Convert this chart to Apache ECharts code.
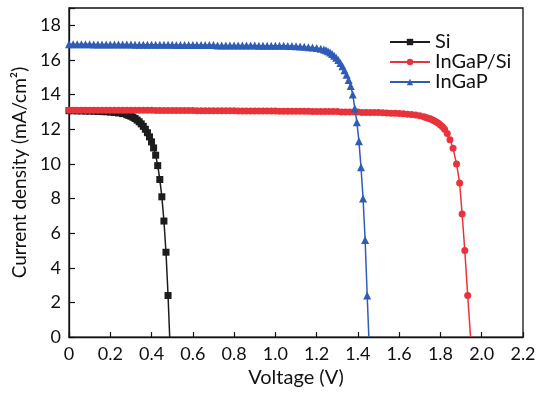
<!DOCTYPE html>
<html><head><meta charset="utf-8">
<script src="https://cdn.jsdelivr.net/npm/echarts@6/dist/echarts.min.js"></script>
<style>html,body{margin:0;padding:0;background:#fff}#c{width:549px;height:393px}</style>
</head><body><div id="c"></div>
<script>
const seriesNames = ['Si', 'InGaP/Si', 'InGaP'];
const xTicks = ['0','0.2','0.4','0.6','0.8','1.0','1.2','1.4','1.6','1.8','2.0','2.2'];

const siData = [[0,13.07],[0.02,13.07],[0.04,13.06],[0.06,13.06],[0.08,13.05],[0.10,13.05],[0.12,13.04],[0.14,13.03],[0.16,13.02],[0.18,13.01],[0.20,12.99],
[0.22,12.97],[0.24,12.94],[0.26,12.90],[0.28,12.84],[0.29,12.80],[0.30,12.75],[0.31,12.69],[0.32,12.62],[0.33,12.53],[0.34,12.43],[0.35,12.31],[0.36,12.17],[0.37,12.00],[0.38,11.80],[0.39,11.56],[0.40,11.27],[0.41,10.92],[0.42,10.50],[0.43,9.90],[0.44,9.10],[0.45,8.10],[0.46,6.70],[0.47,4.90],[0.48,2.40],[0.488,0]];

const ingapSiData = [[0,13.10],[0.02,13.10],[0.04,13.10],[0.06,13.10],[0.08,13.10],[0.10,13.10],[0.12,13.10],[0.14,13.10],[0.16,13.10],[0.18,13.10],[0.20,13.10],
[0.22,13.09],[0.24,13.09],[0.26,13.09],[0.28,13.09],[0.30,13.09],[0.32,13.09],[0.34,13.09],[0.36,13.09],[0.38,13.09],[0.40,13.09],
[0.42,13.08],[0.44,13.08],[0.46,13.08],[0.48,13.08],[0.50,13.08],[0.52,13.08],[0.54,13.08],[0.56,13.08],[0.58,13.08],[0.60,13.08],
[0.62,13.07],[0.64,13.07],[0.66,13.07],[0.68,13.07],[0.70,13.07],[0.72,13.07],[0.74,13.07],[0.76,13.07],[0.78,13.07],[0.80,13.07],
[0.82,13.06],[0.84,13.06],[0.86,13.06],[0.88,13.06],[0.90,13.06],[0.92,13.06],[0.94,13.06],[0.96,13.06],[0.98,13.06],[1.00,13.06],
[1.02,13.04],[1.04,13.04],[1.06,13.04],[1.08,13.04],[1.10,13.04],[1.12,13.04],[1.14,13.04],[1.16,13.04],
[1.18,13.02],[1.20,13.02],[1.22,13.02],[1.24,13.02],[1.26,13.02],[1.28,13.02],[1.30,13.02],
[1.32,13.00],[1.34,13.00],[1.36,13.00],[1.38,13.00],[1.40,13.00],
[1.42,12.97],[1.44,12.97],[1.46,12.97],[1.48,12.97],[1.50,12.97],
[1.52,12.95],[1.54,12.94],[1.56,12.93],[1.58,12.92],[1.60,12.91],[1.62,12.89],[1.64,12.87],[1.66,12.85],[1.68,12.82],[1.70,12.78],[1.72,12.72],[1.73,12.68],[1.74,12.64],[1.75,12.60],[1.76,12.55],[1.77,12.49],[1.78,12.42],[1.79,12.34],[1.80,12.25],[1.81,12.14],[1.82,12.00],[1.833,11.75],[1.846,11.40],[1.861,10.90],[1.878,10.00],[1.893,8.90],[1.905,7.10],[1.918,5.00],[1.932,2.40],[1.946,0]];

const ingapData = [[0,16.90],[0.02,16.90],[0.04,16.90],[0.06,16.90],[0.08,16.90],[0.10,16.90],
[0.12,16.89],[0.14,16.89],[0.16,16.89],[0.18,16.89],[0.20,16.89],[0.22,16.89],[0.24,16.89],[0.26,16.89],[0.28,16.89],[0.30,16.89],
[0.32,16.88],[0.34,16.88],[0.36,16.88],[0.38,16.88],[0.40,16.88],[0.42,16.88],[0.44,16.88],[0.46,16.88],[0.48,16.88],[0.50,16.88],
[0.52,16.86],[0.54,16.86],[0.56,16.86],[0.58,16.86],[0.60,16.86],[0.62,16.86],[0.64,16.86],[0.66,16.86],[0.68,16.86],[0.70,16.86],
[0.72,16.84],[0.74,16.84],[0.76,16.84],[0.78,16.84],[0.80,16.84],[0.82,16.84],[0.84,16.84],[0.86,16.84],[0.88,16.84],[0.90,16.84],
[0.92,16.82],[0.94,16.82],[0.96,16.82],[0.98,16.82],[1.00,16.82],[1.02,16.82],[1.04,16.82],
[1.06,16.81],[1.08,16.80],[1.10,16.79],[1.12,16.78],[1.14,16.76],[1.16,16.74],[1.18,16.72],[1.20,16.69],[1.22,16.65],
[1.235,16.61],[1.245,16.56],[1.255,16.50],[1.265,16.43],[1.275,16.35],[1.285,16.25],[1.295,16.13],[1.305,16.00],[1.315,15.83],[1.325,15.63],[1.335,15.40],[1.345,15.15],[1.355,14.85],[1.365,14.50],[1.375,14.00],[1.385,13.20],[1.395,12.40],[1.405,11.30],[1.415,9.80],[1.425,8.00],[1.435,5.60],[1.445,2.40],[1.453,0]];

const colors = ['#1c1c1c', '#e8333a', '#2f5db6'];
const symbols = ['rect', 'circle', 'triangle'];
const FONT = 'Lato';

function withEnd(arr) {
  return arr.map((p, i) => i === arr.length - 1 ? {value: p, symbol: 'none'} : p);
}
const datasets = [siData, ingapSiData, ingapData];

const chart = echarts.init(document.getElementById('c'));
chart.setOption({
  animation: false,
  backgroundColor: '#fff',
  textStyle: {fontFamily: FONT},
  grid: {left: 69, right: 26, top: 8, bottom: 52, show: true, borderColor: '#111', borderWidth: 1.3, backgroundColor: 'transparent'},
  legend: {
    orient: 'vertical', left: 384, top: 27, itemWidth: 40, itemHeight: 8, itemGap: 0,
    textStyle: {fontFamily: FONT, fontSize: 20, lineHeight: 19, color: '#111'},
    data: seriesNames
  },
  xAxis: {
    type: 'value', min: 0, max: 2.2, interval: 0.2,
    name: 'Voltage (V)', nameLocation: 'middle', nameGap: 30,
    nameTextStyle: {fontFamily: FONT, fontSize: 20, color: '#111'},
    axisLine: {show: true, lineStyle: {color: '#111', width: 1.3}},
    axisTick: {show: true, inside: true, length: 5, lineStyle: {color: '#111', width: 1.2}},
    axisLabel: {fontFamily: FONT, fontSize: 18, color: '#111', margin: 8,
      formatter: v => xTicks[Math.round(v / 0.2)]},
    splitLine: {show: false}
  },
  yAxis: {
    type: 'value', min: 0, max: 19, interval: 2,
    name: 'Current density (mA/cm\u00B2)', nameLocation: 'middle', nameGap: 33,
    nameTextStyle: {fontFamily: FONT, fontSize: 19, color: '#111'},
    axisLine: {show: true, lineStyle: {color: '#111', width: 1.3}},
    axisTick: {show: true, inside: true, length: 6, lineStyle: {color: '#111', width: 1.2}},
    axisLabel: {fontFamily: FONT, fontSize: 18, color: '#111', margin: 8,
      formatter: v => (v % 2 === 0 ? String(v) : '')},
    splitLine: {show: false}
  },
  series: seriesNames.map((n, i) => ({
    name: n, type: 'line', data: withEnd(datasets[i]),
    symbol: symbols[i], symbolSize: i === 2 ? 8 : 7,
    showAllSymbol: true,
    lineStyle: {color: colors[i], width: 1.5},
    itemStyle: {color: colors[i]},
    z: 2 + i
  }))
});
</script>
</body></html>
